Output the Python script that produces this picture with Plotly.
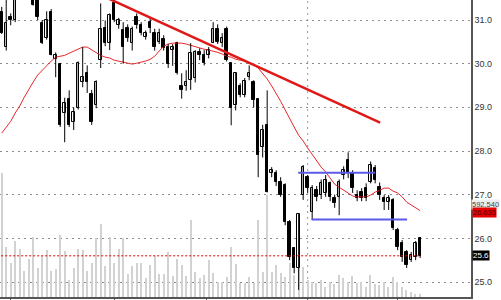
import plotly.graph_objects as go

# ---------------- data ----------------
open_ = [31.18, 30.38, 31.08, 31.00, 31.60, 31.90, 31.70, 31.60, 31.60, 30.92,
         30.58, 31.18, 30.10, 30.00, 28.87, 29.19, 28.66, 28.98, 29.57, 29.78,
         29.30, 29.05, 30.08, 30.81, 30.47, 31.40, 30.88, 30.76, 30.81, 30.47,
         31.06, 30.88, 30.60, 30.95, 30.70, 30.50, 30.56, 30.38, 30.31, 30.47,
         29.50, 29.48, 29.62, 29.67, 30.26, 30.19, 30.19, 30.47, 30.79, 30.47,
         30.79, 30.01, 29.05, 29.48, 29.28, 29.69, 29.57, 29.20, 28.09, 28.59,
         27.49, 27.50, 27.30, 27.22, 26.37, 25.78, 25.32, 27.00, 27.40, 26.60,
         27.10, 26.99, 27.04, 27.26, 26.92, 26.94, 27.45, 27.79, 27.49, 26.99,
         27.06, 27.15, 27.29, 27.60, 27.17, 26.92, 26.83, 26.87, 26.19, 25.89,
         25.69, 25.50, 25.57, 26.00]
high = [31.30, 31.50, 31.15, 31.80, 32.00, 32.10, 31.90, 31.70, 31.70, 31.00,
        31.20, 31.25, 30.26, 30.02, 29.22, 29.39, 29.00, 30.05, 30.38, 29.96,
        29.40, 29.62, 31.38, 30.99, 31.15, 31.45, 31.05, 30.95, 30.90, 30.85,
        31.15, 30.95, 30.76, 31.05, 30.80, 30.80, 30.65, 30.45, 30.45, 30.50,
        29.78, 29.85, 30.47, 30.31, 30.35, 30.31, 30.38, 30.95, 30.90, 30.70,
        30.85, 30.01, 29.80, 29.55, 29.67, 29.96, 29.62, 29.20, 28.60, 29.39,
        27.63, 27.56, 27.40, 27.26, 26.42, 25.80, 26.58, 27.68, 27.45, 27.22,
        27.20, 27.35, 27.45, 27.30, 27.00, 27.35, 27.65, 27.97, 27.56, 27.10,
        27.15, 27.26, 27.76, 27.68, 27.28, 26.99, 26.99, 26.92, 26.24, 25.96,
        25.73, 25.69, 25.94, 26.03]
low = [30.68, 30.30, 30.88, 30.95, 31.50, 31.55, 31.50, 31.33, 31.00, 30.45,
       30.55, 30.19, 29.69, 28.55, 28.20, 28.55, 28.48, 28.95, 29.46, 29.33,
       28.60, 28.98, 29.90, 30.40, 30.31, 30.95, 30.80, 30.00, 30.50, 30.30,
       30.80, 30.65, 30.55, 30.70, 30.30, 30.45, 30.30, 29.90, 29.95, 29.75,
       29.20, 29.38, 29.40, 29.57, 30.08, 29.96, 30.12, 30.47, 30.45, 30.38,
       30.05, 28.59, 28.93, 29.23, 29.23, 29.62, 29.00, 27.40, 27.85, 27.05,
       27.40, 27.20, 26.95, 26.30, 25.50, 25.20, 24.82, 26.88, 27.04, 26.42,
       26.85, 26.90, 26.95, 26.85, 26.70, 26.53, 27.35, 27.38, 27.04, 26.85,
       26.85, 26.85, 27.26, 27.26, 26.88, 26.65, 26.65, 26.19, 25.73, 25.46,
       25.32, 25.46, 25.50, 25.55]
close = [30.70, 30.92, 30.99, 31.60, 31.90, 31.70, 31.55, 31.35, 31.06, 30.47,
         30.99, 30.19, 30.19, 28.59, 29.10, 28.59, 28.89, 30.01, 29.69, 29.57,
         28.66, 29.57, 30.79, 30.47, 31.11, 31.00, 30.99, 30.38, 30.58, 30.79,
         30.88, 30.70, 30.70, 30.81, 30.38, 30.70, 30.35, 30.00, 30.38, 29.78,
         29.40, 29.57, 30.24, 30.26, 30.19, 30.01, 30.31, 30.79, 30.49, 30.58,
         30.08, 28.98, 29.78, 29.28, 29.60, 29.78, 29.16, 27.90, 28.48, 27.06,
         27.56, 27.30, 27.00, 26.37, 25.57, 25.32, 26.55, 27.63, 27.15, 27.15,
         26.94, 27.26, 27.33, 26.94, 26.80, 27.28, 27.56, 27.49, 27.15, 26.92,
         26.92, 26.92, 27.67, 27.33, 26.99, 26.83, 26.92, 26.24, 25.80, 25.57,
         25.39, 25.62, 25.89, 25.60]
ma20 = [28.41, 28.55, 28.68, 28.87, 29.03, 29.23, 29.42, 29.58, 29.74, 29.85,
        29.97, 30.06, 30.15, 30.17, 30.19, 30.24, 30.29, 30.33, 30.38, 30.38,
        30.31, 30.24, 30.19, 30.15, 30.13, 30.08, 30.06, 30.03, 30.01, 29.99,
        30.01, 30.03, 30.06, 30.10, 30.17, 30.29, 30.40, 30.45, 30.47, 30.47,
        30.47, 30.45, 30.42, 30.38, 30.36, 30.33, 30.31, 30.29, 30.26, 30.22,
        30.17, 30.15, 30.10, 30.08, 30.06, 30.01, 29.97, 29.90, 29.78, 29.65,
        29.49, 29.33, 29.14, 28.94, 28.73, 28.55, 28.36, 28.23, 28.07, 27.93,
        27.77, 27.63, 27.52, 27.38, 27.24, 27.17, 27.10, 27.04, 26.97, 26.95,
        26.95, 26.95, 26.99, 27.06, 27.10, 27.15, 27.15, 27.08, 27.04, 26.95,
        26.83, 26.76, 26.69, 26.635]
volume_k = [782, 316, 213, 354, 302, 163, 238, 379, 181, 257,
            295, 163, 175, 390, 291, 106, 181, 304, 295, 164,
            213, 371, 460, 196, 378, 213, 304, 371, 144, 196,
            215, 215, 120, 200, 257, 144, 144, 283, 131, 238,
            200, 131, 485, 158, 118, 137, 232, 152, 95, 95,
            126, 316, 207, 87, 87, 125, 89, 485, 158, 643,
            158, 200, 150, 126, 215, 137, 213, 190, 106, 95,
            87, 106, 63, 95, 85, 137, 118, 95, 131, 87,
            95, 63, 137, 85, 74, 95, 63, 126, 95, 63,
            42, 32, 21, 17]
volume_label_k = 592.540

trend_x = [21, 84.1]
trend_y = [31.62, 28.65]
resist_x = [65.9, 83.0]
resist_y = [27.5, 27.5]
support_x = [68.9, 90.1]
support_y = [26.43, 26.43]

price_ticks = [25.0, 26.0, 27.0, 28.0, 29.0, 30.0, 31.0]
month_ticks = [2, 25, 45.5, 68, 88]
year_break = 68

# ---------------- figure ----------------
n = len(close)
idx = list(range(n))
up = [i for i in idx if close[i] >= open_[i]]
dn = [i for i in idx if close[i] < open_[i]]

fig = go.Figure()

# volume (main hidden axis, drawn beneath prices)
fig.add_trace(go.Bar(x=idx, y=volume_k, width=0.3, marker=dict(color="#d2d2d2", line=dict(width=0)),
                     yaxis="y", hoverinfo="skip"))

# wicks
wx, wy = [], []
for i in idx:
    wx += [i, i, None]
    wy += [low[i], high[i], None]

# moving average
fig.add_trace(go.Scatter(x=idx, y=ma20, mode="lines", line=dict(color="#e8262a", width=1), yaxis="y2"))

fig.add_trace(go.Scatter(x=wx, y=wy, mode="lines", line=dict(color="#000", width=1), yaxis="y2",
                         connectgaps=False))
fig.add_trace(go.Bar(x=up, base=[open_[i] for i in up], y=[close[i] - open_[i] for i in up], width=0.55,
                     marker=dict(color="#ffffff", line=dict(color="#000", width=1)), yaxis="y2"))
fig.add_trace(go.Bar(x=dn, base=[open_[i] for i in dn], y=[close[i] - open_[i] for i in dn], width=0.55,
                     marker=dict(color="#000000", line=dict(color="#000", width=1)), yaxis="y2"))

# last price dotted line
fig.add_trace(go.Scatter(x=[-1, n - 1], y=[close[-1], close[-1]], mode="lines",
                         line=dict(color="#e00000", width=1, dash="2px,2px"), yaxis="y2"))
# trend / channel lines
fig.add_trace(go.Scatter(x=trend_x, y=trend_y, mode="lines", line=dict(color="#e01818", width=2.5), yaxis="y2"))
fig.add_trace(go.Scatter(x=resist_x, y=resist_y, mode="lines", line=dict(color="#5a5ae6", width=2), yaxis="y2"))
fig.add_trace(go.Scatter(x=support_x, y=support_y, mode="lines", line=dict(color="#5a5ae6", width=2), yaxis="y2"))

fig.add_shape(type="line", xref="x", yref="paper", x0=year_break, x1=year_break, y0=0, y1=1,
              line=dict(color="#999", width=1, dash="2px,4px"), layer="below")

fig.update_layout(
    width=501, height=300,
    margin=dict(l=0, r=30, t=0, b=3),
    paper_bgcolor="white", plot_bgcolor="white",
    showlegend=False, barmode="overlay", bargap=0,
    font=dict(family="Liberation Sans", size=9, color="#333"),
    xaxis=dict(range=[-0.38, 104.3], showgrid=False, zeroline=False,
               showline=True, linecolor="#555", linewidth=1.5,
               ticks="outside", tickvals=month_ticks, ticklen=3, tickcolor="#555",
               showticklabels=False, fixedrange=True),
    yaxis=dict(range=[0, 1878], visible=False, fixedrange=True),
    yaxis2=dict(range=[24.657, 31.458], overlaying="y", side="right", anchor="x",
                tickvals=price_ticks, ticktext=[f"{v:.1f}" for v in price_ticks],
                showgrid=True, gridcolor="#8c8c8c", griddash="1.5px,4.5px", gridwidth=1,
                zeroline=False, showline=True, linecolor="#555", linewidth=1.5,
                ticks="", tickfont=dict(size=9, color="#333"), fixedrange=True),
)

fig.add_annotation(xref="paper", x=1, xanchor="left", xshift=0, yref="y", y=volume_label_k, yshift=-1,
                   text=f"{volume_label_k*1000:,.0f}", showarrow=False,
                   font=dict(size=7.5, color="#444"), bgcolor="#eeeeee", borderpad=0)
fig.add_annotation(xref="paper", x=1, xanchor="left", xshift=1, yref="y2", y=ma20[-1], yshift=-2,
                   text=f"{ma20[-1]:.3f}", showarrow=False,
                   font=dict(size=7.5, color="#5a0000"), bgcolor="#e60000", borderpad=0)
fig.add_annotation(xref="paper", x=1, xanchor="left", xshift=1, yref="y2", y=close[-1],
                   text=f"{close[-1]:.1f}", showarrow=False,
                   font=dict(size=8, color="#ffffff"), bgcolor="#000000", borderpad=0)

fig.write_html("out.html")
